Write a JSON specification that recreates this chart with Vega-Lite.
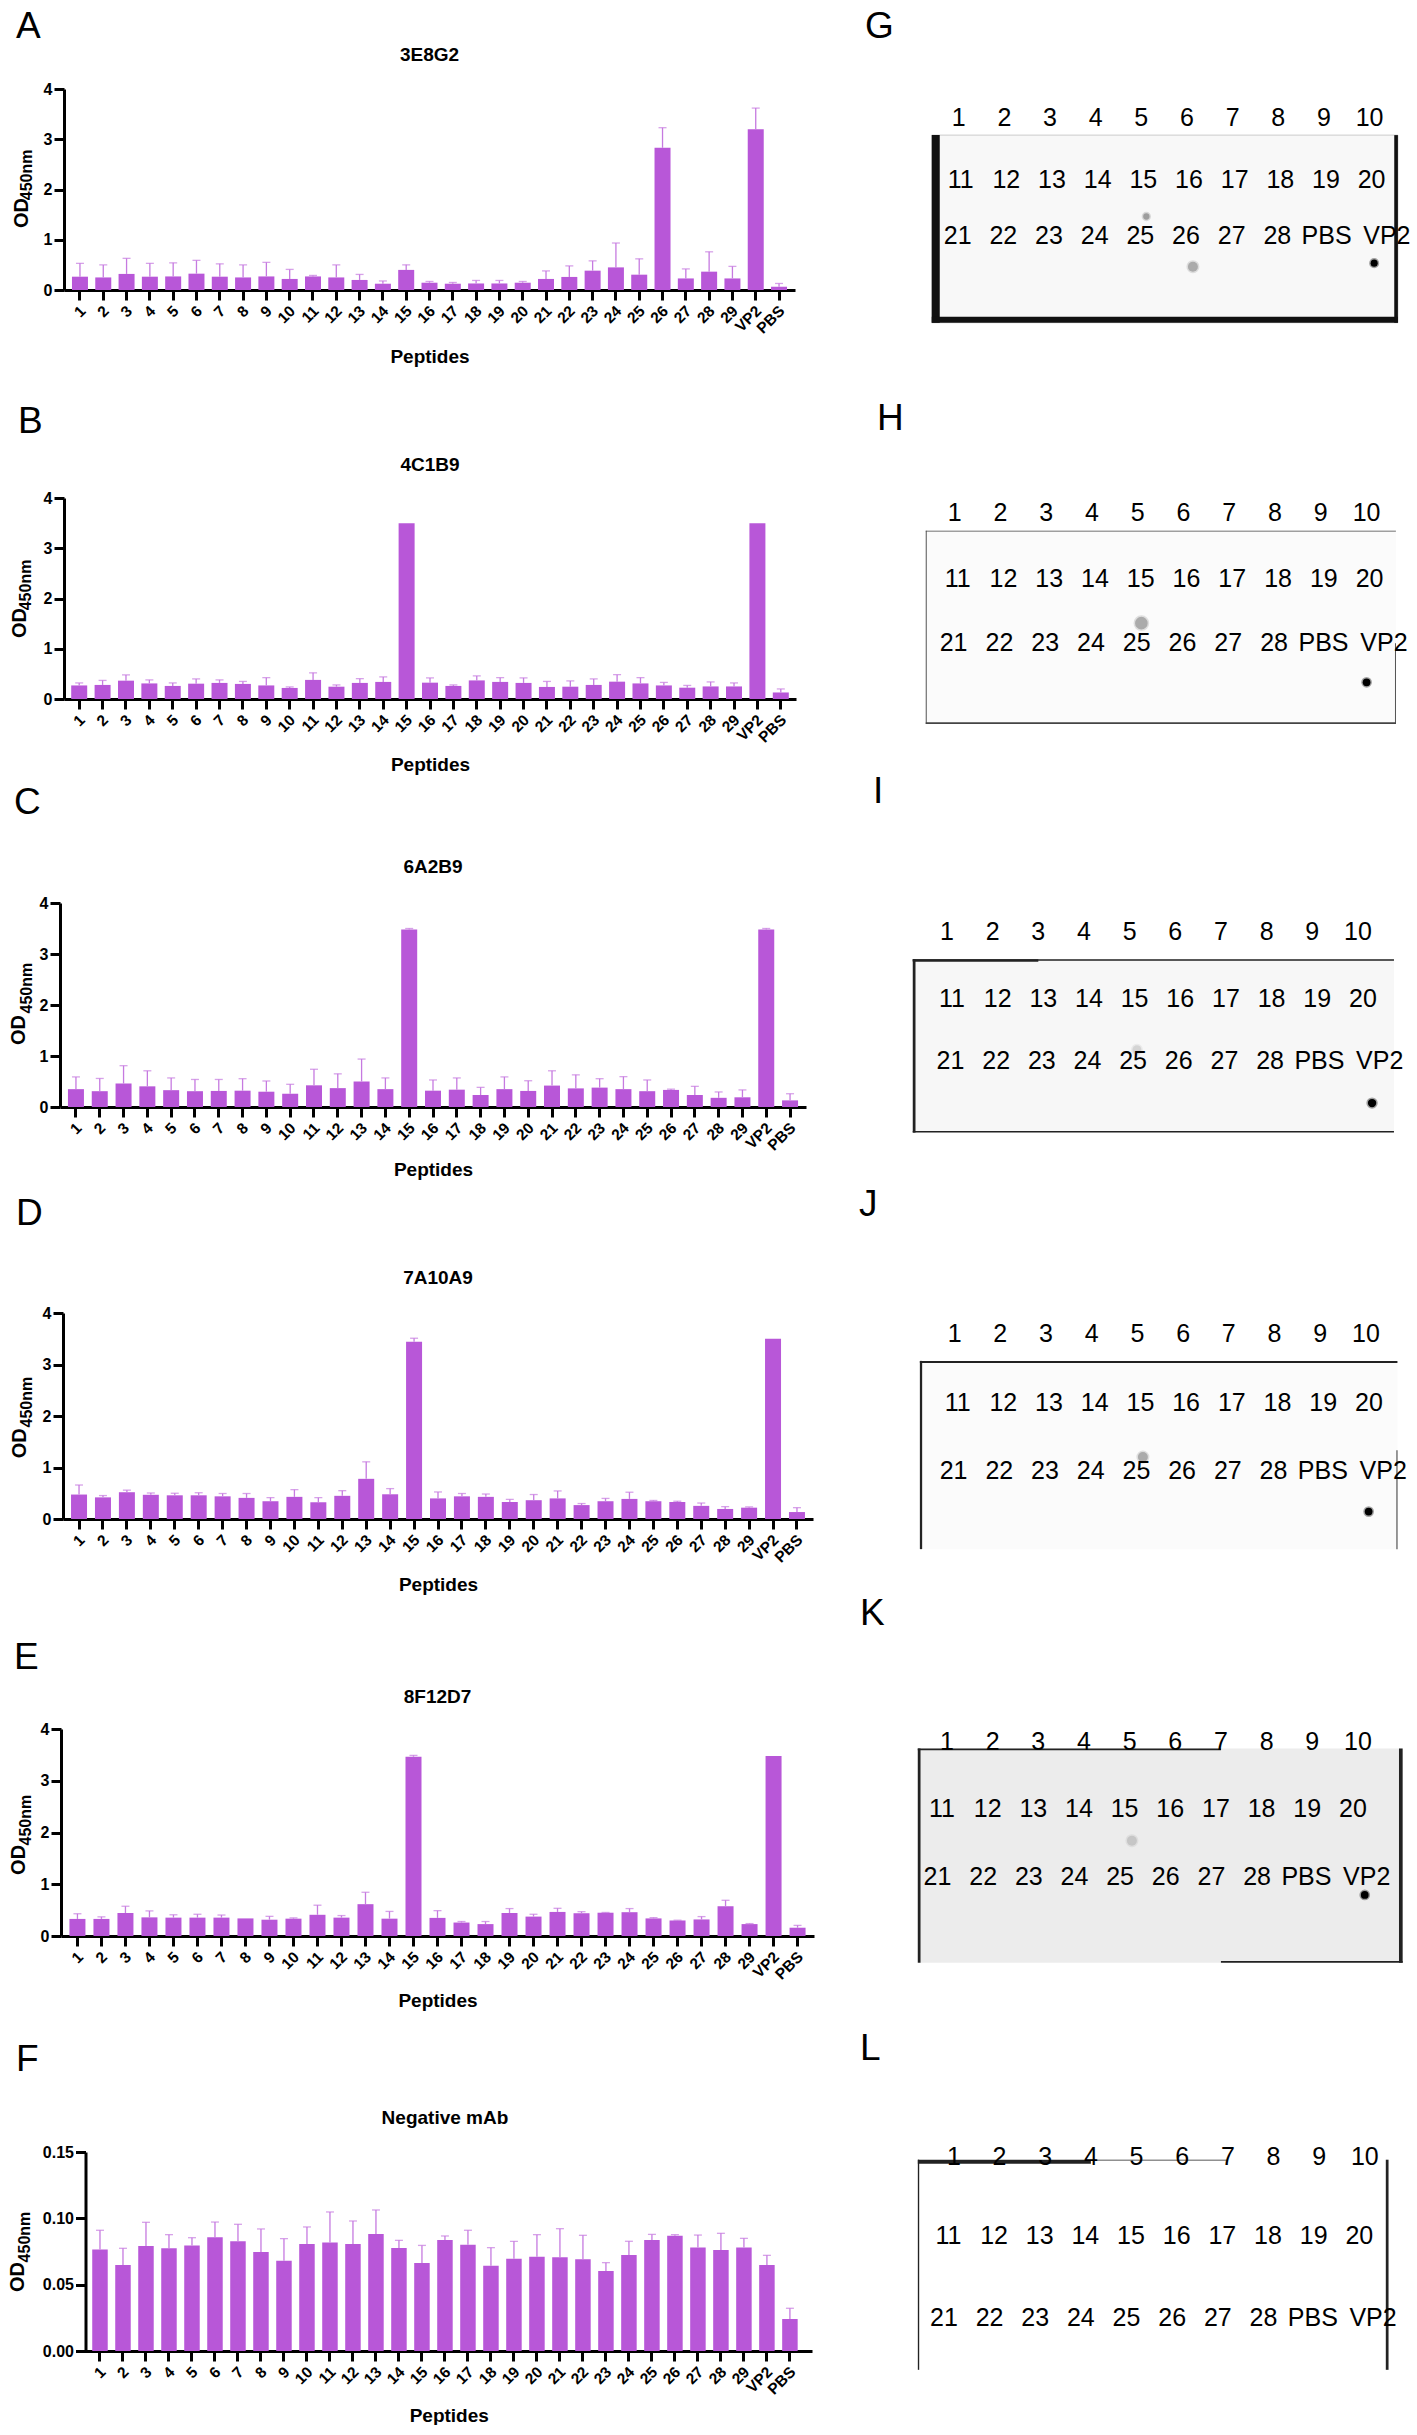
{
"$schema":"https://vega.github.io/schema/vega-lite/v6.json",
"padding":0,
"background":"white",
"config":{
 "view":{"stroke":null},
 "font":"Liberation Sans",
 "axis":{"grid":false,"domainColor":"black","domainWidth":3,"tickColor":"black","tickWidth":3,"tickSize":10,"labelColor":"black","labelFont":"Liberation Sans","labelFontWeight":"bold","labelOverlap":false,"labelFlush":false,"labelBound":false,"titleColor":"black","titleFont":"Liberation Sans","titleFontWeight":"bold"},
 "axisX":{"labelAngle":-45,"labelAlign":"right","labelBaseline":"middle","labelFontSize":15.5,"labelPadding":8,"labelOffset":3,"titleFontSize":19,"titleBaseline":"middle"},
 "axisY":{"labelFontSize":16,"labelPadding":2,"title":null},
 "title":{"anchor":"start","frame":"group","fontSize":37,"fontWeight":"normal","font":"Liberation Sans","color":"black","baseline":"alphabetic"},
 "text":{"font":"Liberation Sans","color":"black"},
 "bar":{"color":"#b857d8"},
 "rule":{"color":"#c67ae0","strokeWidth":1.3},
 "tick":{"color":"#c67ae0","thickness":1.3}
},
"datasets":{
"a":[{"p":"1","od":0.265,"hi":0.53},{"p":"2","od":0.25,"hi":0.5},{"p":"3","od":0.32,"hi":0.63},{"p":"4","od":0.265,"hi":0.53},{"p":"5","od":0.27,"hi":0.54},{"p":"6","od":0.325,"hi":0.59},{"p":"7","od":0.265,"hi":0.52},{"p":"8","od":0.25,"hi":0.5},{"p":"9","od":0.27,"hi":0.55},{"p":"10","od":0.22,"hi":0.41},{"p":"11","od":0.27,"hi":0.29},{"p":"12","od":0.25,"hi":0.5},{"p":"13","od":0.2,"hi":0.31},{"p":"14","od":0.125,"hi":0.18},{"p":"15","od":0.4,"hi":0.5},{"p":"16","od":0.145,"hi":0.17},{"p":"17","od":0.125,"hi":0.15},{"p":"18","od":0.13,"hi":0.19},{"p":"19","od":0.13,"hi":0.19},{"p":"20","od":0.145,"hi":0.17},{"p":"21","od":0.22,"hi":0.38},{"p":"22","od":0.26,"hi":0.48},{"p":"23","od":0.385,"hi":0.58},{"p":"24","od":0.45,"hi":0.935},{"p":"25","od":0.305,"hi":0.62},{"p":"26","od":2.83,"hi":3.23},{"p":"27","od":0.23,"hi":0.42},{"p":"28","od":0.365,"hi":0.76},{"p":"29","od":0.23,"hi":0.47},{"p":"VP2","od":3.2,"hi":3.62},{"p":"PBS","od":0.065,"hi":0.13}],
"b":[{"p":"1","od":0.27,"hi":0.32},{"p":"2","od":0.28,"hi":0.37},{"p":"3","od":0.365,"hi":0.48},{"p":"4","od":0.31,"hi":0.38},{"p":"5","od":0.26,"hi":0.32},{"p":"6","od":0.305,"hi":0.4},{"p":"7","od":0.32,"hi":0.38},{"p":"8","od":0.3,"hi":0.35},{"p":"9","od":0.27,"hi":0.425},{"p":"10","od":0.22,"hi":0.24},{"p":"11","od":0.38,"hi":0.52},{"p":"12","od":0.245,"hi":0.28},{"p":"13","od":0.32,"hi":0.405},{"p":"14","od":0.34,"hi":0.44},{"p":"15","od":3.5,"hi":3.5},{"p":"16","od":0.325,"hi":0.42},{"p":"17","od":0.26,"hi":0.28},{"p":"18","od":0.37,"hi":0.46},{"p":"19","od":0.34,"hi":0.425},{"p":"20","od":0.32,"hi":0.42},{"p":"21","od":0.24,"hi":0.35},{"p":"22","od":0.245,"hi":0.36},{"p":"23","od":0.28,"hi":0.4},{"p":"24","od":0.345,"hi":0.485},{"p":"25","od":0.31,"hi":0.425},{"p":"26","od":0.27,"hi":0.33},{"p":"27","od":0.225,"hi":0.27},{"p":"28","od":0.25,"hi":0.34},{"p":"29","od":0.25,"hi":0.32},{"p":"VP2","od":3.5,"hi":3.5},{"p":"PBS","od":0.13,"hi":0.2}],
"c":[{"p":"1","od":0.35,"hi":0.59},{"p":"2","od":0.31,"hi":0.56},{"p":"3","od":0.46,"hi":0.81},{"p":"4","od":0.405,"hi":0.71},{"p":"5","od":0.33,"hi":0.57},{"p":"6","od":0.31,"hi":0.54},{"p":"7","od":0.315,"hi":0.54},{"p":"8","od":0.32,"hi":0.555},{"p":"9","od":0.3,"hi":0.51},{"p":"10","od":0.26,"hi":0.445},{"p":"11","od":0.425,"hi":0.74},{"p":"12","od":0.37,"hi":0.65},{"p":"13","od":0.5,"hi":0.94},{"p":"14","od":0.35,"hi":0.57},{"p":"15","od":3.48,"hi":3.5},{"p":"16","od":0.32,"hi":0.53},{"p":"17","od":0.34,"hi":0.57},{"p":"18","od":0.235,"hi":0.385},{"p":"19","od":0.35,"hi":0.59},{"p":"20","od":0.315,"hi":0.515},{"p":"21","od":0.42,"hi":0.71},{"p":"22","od":0.365,"hi":0.63},{"p":"23","od":0.38,"hi":0.555},{"p":"24","od":0.35,"hi":0.595},{"p":"25","od":0.31,"hi":0.53},{"p":"26","od":0.335,"hi":0.35},{"p":"27","od":0.235,"hi":0.405},{"p":"28","od":0.18,"hi":0.295},{"p":"29","od":0.19,"hi":0.335},{"p":"VP2","od":3.48,"hi":3.5},{"p":"PBS","od":0.13,"hi":0.26}],
"d":[{"p":"1","od":0.475,"hi":0.66},{"p":"2","od":0.42,"hi":0.455},{"p":"3","od":0.52,"hi":0.56},{"p":"4","od":0.47,"hi":0.505},{"p":"5","od":0.46,"hi":0.5},{"p":"6","od":0.46,"hi":0.51},{"p":"7","od":0.44,"hi":0.495},{"p":"8","od":0.41,"hi":0.495},{"p":"9","od":0.345,"hi":0.415},{"p":"10","od":0.43,"hi":0.57},{"p":"11","od":0.325,"hi":0.415},{"p":"12","od":0.45,"hi":0.55},{"p":"13","od":0.78,"hi":1.11},{"p":"14","od":0.48,"hi":0.59},{"p":"15","od":3.44,"hi":3.51},{"p":"16","od":0.4,"hi":0.525},{"p":"17","od":0.44,"hi":0.495},{"p":"18","od":0.43,"hi":0.485},{"p":"19","od":0.33,"hi":0.38},{"p":"20","od":0.365,"hi":0.475},{"p":"21","od":0.4,"hi":0.545},{"p":"22","od":0.27,"hi":0.3},{"p":"23","od":0.345,"hi":0.4},{"p":"24","od":0.39,"hi":0.52},{"p":"25","od":0.345,"hi":0.36},{"p":"26","od":0.33,"hi":0.345},{"p":"27","od":0.255,"hi":0.31},{"p":"28","od":0.195,"hi":0.24},{"p":"29","od":0.22,"hi":0.235},{"p":"VP2","od":3.5,"hi":3.5},{"p":"PBS","od":0.135,"hi":0.22}],
"e":[{"p":"1","od":0.33,"hi":0.43},{"p":"2","od":0.33,"hi":0.37},{"p":"3","od":0.445,"hi":0.575},{"p":"4","od":0.36,"hi":0.485},{"p":"5","od":0.355,"hi":0.41},{"p":"6","od":0.355,"hi":0.42},{"p":"7","od":0.355,"hi":0.405},{"p":"8","od":0.34,"hi":0.34},{"p":"9","od":0.315,"hi":0.38},{"p":"10","od":0.335,"hi":0.35},{"p":"11","od":0.41,"hi":0.595},{"p":"12","od":0.355,"hi":0.395},{"p":"13","od":0.615,"hi":0.845},{"p":"14","od":0.335,"hi":0.475},{"p":"15","od":3.465,"hi":3.49},{"p":"16","od":0.35,"hi":0.49},{"p":"17","od":0.26,"hi":0.28},{"p":"18","od":0.23,"hi":0.28},{"p":"19","od":0.445,"hi":0.53},{"p":"20","od":0.375,"hi":0.42},{"p":"21","od":0.465,"hi":0.535},{"p":"22","od":0.44,"hi":0.47},{"p":"23","od":0.45,"hi":0.455},{"p":"24","od":0.46,"hi":0.53},{"p":"25","od":0.34,"hi":0.355},{"p":"26","od":0.3,"hi":0.305},{"p":"27","od":0.32,"hi":0.375},{"p":"28","od":0.575,"hi":0.69},{"p":"29","od":0.23,"hi":0.24},{"p":"VP2","od":3.48,"hi":3.48},{"p":"PBS","od":0.16,"hi":0.205}],
"f":[{"p":"1","od":0.0766,"hi":0.091},{"p":"2","od":0.0648,"hi":0.0774},{"p":"3","od":0.0791,"hi":0.097},{"p":"4","od":0.0774,"hi":0.0877},{"p":"5","od":0.0796,"hi":0.0854},{"p":"6","od":0.0857,"hi":0.0972},{"p":"7","od":0.0827,"hi":0.0955},{"p":"8","od":0.0746,"hi":0.092},{"p":"9","od":0.068,"hi":0.0847},{"p":"10","od":0.0807,"hi":0.0935},{"p":"11","od":0.0817,"hi":0.1048},{"p":"12","od":0.0807,"hi":0.098},{"p":"13","od":0.0882,"hi":0.1063},{"p":"14","od":0.0776,"hi":0.0834},{"p":"15","od":0.0663,"hi":0.0796},{"p":"16","od":0.0837,"hi":0.0867},{"p":"17","od":0.0801,"hi":0.091},{"p":"18","od":0.0643,"hi":0.0779},{"p":"19","od":0.0696,"hi":0.0827},{"p":"20","od":0.0711,"hi":0.0877},{"p":"21","od":0.0706,"hi":0.0922},{"p":"22","od":0.0691,"hi":0.0872},{"p":"23","od":0.0603,"hi":0.0666},{"p":"24","od":0.0724,"hi":0.0827},{"p":"25","od":0.0837,"hi":0.0879},{"p":"26","od":0.0869,"hi":0.0877},{"p":"27","od":0.0781,"hi":0.0874},{"p":"28","od":0.0761,"hi":0.0887},{"p":"29","od":0.0781,"hi":0.0849},{"p":"VP2","od":0.0648,"hi":0.0721},{"p":"PBS","od":0.0241,"hi":0.0322}],
"labels":[{"t":"1","lane":1,"row":1},{"t":"2","lane":2,"row":1},{"t":"3","lane":3,"row":1},{"t":"4","lane":4,"row":1},{"t":"5","lane":5,"row":1},{"t":"6","lane":6,"row":1},{"t":"7","lane":7,"row":1},{"t":"8","lane":8,"row":1},{"t":"9","lane":9,"row":1},{"t":"10","lane":10,"row":1},{"t":"11","lane":1,"row":2},{"t":"12","lane":2,"row":2},{"t":"13","lane":3,"row":2},{"t":"14","lane":4,"row":2},{"t":"15","lane":5,"row":2},{"t":"16","lane":6,"row":2},{"t":"17","lane":7,"row":2},{"t":"18","lane":8,"row":2},{"t":"19","lane":9,"row":2},{"t":"20","lane":10,"row":2},{"t":"21","lane":1,"row":3},{"t":"22","lane":2,"row":3},{"t":"23","lane":3,"row":3},{"t":"24","lane":4,"row":3},{"t":"25","lane":5,"row":3},{"t":"26","lane":6,"row":3},{"t":"27","lane":7,"row":3},{"t":"28","lane":8,"row":3},{"t":"PBS","lane":9.08,"row":3},{"t":"VP2","lane":10.4,"row":3}]
},
"concat":[
{"width":830,"height":290,"title":{"text":"A","dx":16,"offset":-46},
 "encoding":{"x":{"field":"p","type":"nominal","scale":{"domain":["1","2","3","4","5","6","7","8","9","10","11","12","13","14","15","16","17","18","19","20","21","22","23","24","25","26","27","28","29","VP2","PBS"],"range":[64,795],"paddingInner":0,"paddingOuter":0.185},"axis":{"title":"Peptides","titleY":66}},
  "y":{"field":"od","type":"quantitative","scale":{"domain":[0,4],"range":[290,89],"nice":false},"axis":{"values":[0,1,2,3,4],"offset":-64}}},
 "layer":[
  {"data":{"name":"a"},"mark":{"type":"bar","size":16}},
  {"data":{"name":"a"},"mark":"rule","encoding":{"y2":{"field":"hi"}}},
  {"data":{"name":"a"},"mark":{"type":"tick","size":8},"encoding":{"y":{"field":"hi","type":"quantitative"}}},
  {"data":{"values":[{"p":"16","od":4.68,"t":"3E8G2"}]},"mark":{"type":"text","fontSize":19,"fontWeight":"bold"},"encoding":{"text":{"field":"t"}}},
  {"data":{"values":[{"p":"1","od":1.53,"t":"OD"}]},"mark":{"type":"text","fontSize":20,"fontWeight":"bold","angle":270,"dy":-58},"encoding":{"text":{"field":"t"}}},
  {"data":{"values":[{"p":"1","od":2.29,"t":"450nm"}]},"mark":{"type":"text","fontSize":16,"fontWeight":"bold","angle":270,"dy":-53},"encoding":{"text":{"field":"t"}}}
 ]},
{"width":567,"height":290,"title":{"text":"G","dx":15,"offset":-46},
 "layer":[
  {"data":{"values":[{"x1":0.41,"x2":10.62,"y1":1.29,"y2":4.47}]},"mark":{"type":"rect","fill":"#f8f8f8","stroke":"#cccccc","strokeWidth":1},
   "encoding":{"x":{"field":"x1","type":"quantitative","scale":{"domain":[1,10],"range":[108.7,519.6],"nice":false,"zero":false},"axis":null},"x2":{"field":"x2"},"y":{"field":"y1","type":"quantitative","scale":{"domain":[1,3],"range":[118,236],"nice":false,"zero":false},"axis":null},"y2":{"field":"y2"}}},
  {"data":{"values":[{"x1":0.41,"x2":0.585,"y1":1.29,"y2":4.47},{"x1":0.41,"x2":10.62,"y1":4.37,"y2":4.47},{"x1":10.54,"x2":10.62,"y1":1.29,"y2":4.47}]},"mark":{"type":"rect","fill":"#111111"},
   "encoding":{"x":{"field":"x1","type":"quantitative","axis":null},"x2":{"field":"x2"},"y":{"field":"y1","type":"quantitative","axis":null},"y2":{"field":"y2"}}},
  {"data":{"values":[{"lane":5.11,"row":2.67,"signal":0.35,"area":40},{"lane":6.13,"row":3.52,"signal":0.3,"area":100},{"lane":10.1,"row":3.46,"signal":1,"area":50}]},"mark":{"type":"circle","opacity":1,"strokeWidth":3,"strokeOpacity":0.35},
   "encoding":{"x":{"field":"lane","type":"quantitative","axis":null},"y":{"field":"row","type":"quantitative","axis":null},"size":{"field":"area","type":"quantitative","scale":{"domain":[0,500],"range":[0,500]},"legend":null},"color":{"field":"signal","type":"quantitative","scale":{"domain":[0,1],"range":["#ffffff","#000000"]},"legend":null},"stroke":{"field":"signal","type":"quantitative","scale":{"domain":[0,1],"range":["#ffffff","#000000"]},"legend":null}}},
  {"data":{"name":"labels"},"transform":[{"filter":"datum.row==1"}],"mark":{"type":"text","fontSize":25},"encoding":{"x":{"field":"lane","type":"quantitative"},"y":{"field":"row","type":"quantitative"},"text":{"field":"t"}}},
  {"data":{"name":"labels"},"transform":[{"filter":"datum.row==2"}],"mark":{"type":"text","fontSize":25,"dx":2,"dy":3},"encoding":{"x":{"field":"lane","type":"quantitative"},"y":{"field":"row","type":"quantitative"},"text":{"field":"t"}}},
  {"data":{"name":"labels"},"transform":[{"filter":"datum.row==3"}],"mark":{"type":"text","fontSize":25,"dx":-1},"encoding":{"x":{"field":"lane","type":"quantitative"},"y":{"field":"row","type":"quantitative"},"text":{"field":"t"}}}
 ]},
{"width":830,"height":389,"title":{"text":"B","dx":18,"offset":-131},
 "encoding":{"x":{"field":"p","type":"nominal","scale":{"domain":["1","2","3","4","5","6","7","8","9","10","11","12","13","14","15","16","17","18","19","20","21","22","23","24","25","26","27","28","29","VP2","PBS"],"range":[64,796],"paddingInner":0,"paddingOuter":0.15},"axis":{"title":"Peptides","titleY":65}},
  "y":{"field":"od","type":"quantitative","scale":{"domain":[0,4],"range":[389,188],"nice":false},"axis":{"values":[0,1,2,3,4],"offset":-64}}},
 "layer":[
  {"data":{"name":"b"},"mark":{"type":"bar","size":16}},
  {"data":{"name":"b"},"transform":[{"filter":"datum.hi>datum.od"}],"mark":"rule","encoding":{"y2":{"field":"hi"}}},
  {"data":{"name":"b"},"transform":[{"filter":"datum.hi>datum.od"}],"mark":{"type":"tick","size":8},"encoding":{"y":{"field":"hi","type":"quantitative"}}},
  {"data":{"values":[{"p":"16","od":4.66,"t":"4C1B9"}]},"mark":{"type":"text","fontSize":19,"fontWeight":"bold"},"encoding":{"text":{"field":"t"}}},
  {"data":{"values":[{"p":"1","od":1.51,"t":"OD"}]},"mark":{"type":"text","fontSize":20,"fontWeight":"bold","angle":270,"dy":-59},"encoding":{"text":{"field":"t"}}},
  {"data":{"values":[{"p":"1","od":2.27,"t":"450nm"}]},"mark":{"type":"text","fontSize":16,"fontWeight":"bold","angle":270,"dy":-53},"encoding":{"text":{"field":"t"}}}
 ]},
{"width":567,"height":389,"title":{"text":"H","dx":27,"offset":-128},
 "layer":[
  {"data":{"values":[{"x1":0.37,"x2":10.64,"y1":1.27,"y2":4.24}]},"mark":{"type":"rect","fill":"#fbfbfb"},
   "encoding":{"x":{"field":"x1","type":"quantitative","scale":{"domain":[1,10],"range":[104.6,516.6],"nice":false,"zero":false},"axis":null},"x2":{"field":"x2"},"y":{"field":"y1","type":"quantitative","scale":{"domain":[1,3],"range":[203.3,333.3],"nice":false,"zero":false},"axis":null},"y2":{"field":"y2"}}},
  {"data":{"values":[{"x1":0.37,"x2":0.39,"y1":1.27,"y2":4.24},{"x1":0.37,"x2":10.64,"y1":4.215,"y2":4.24},{"x1":10.62,"x2":10.64,"y1":3,"y2":4.24},{"x1":0.37,"x2":10.64,"y1":1.27,"y2":1.28}]},"mark":{"type":"rect","fill":"#444444"},
   "encoding":{"x":{"field":"x1","type":"quantitative","axis":null},"x2":{"field":"x2"},"y":{"field":"y1","type":"quantitative","axis":null},"y2":{"field":"y2"}}},
  {"data":{"values":[{"lane":5.08,"row":2.69,"signal":0.3,"area":160},{"lane":10,"row":3.6,"signal":1,"area":60}]},"mark":{"type":"circle","opacity":1,"strokeWidth":3,"strokeOpacity":0.35},
   "encoding":{"x":{"field":"lane","type":"quantitative","axis":null},"y":{"field":"row","type":"quantitative","axis":null},"size":{"field":"area","type":"quantitative","scale":{"domain":[0,500],"range":[0,500]},"legend":null},"color":{"field":"signal","type":"quantitative","scale":{"domain":[0,1],"range":["#ffffff","#000000"]},"legend":null},"stroke":{"field":"signal","type":"quantitative","scale":{"domain":[0,1],"range":["#ffffff","#000000"]},"legend":null}}},
  {"data":{"name":"labels"},"transform":[{"filter":"datum.row==1"}],"mark":{"type":"text","fontSize":25},"encoding":{"x":{"field":"lane","type":"quantitative"},"y":{"field":"row","type":"quantitative"},"text":{"field":"t"}}},
  {"data":{"name":"labels"},"transform":[{"filter":"datum.row==2"}],"mark":{"type":"text","fontSize":25,"dx":3,"dy":1},"encoding":{"x":{"field":"lane","type":"quantitative"},"y":{"field":"row","type":"quantitative"},"text":{"field":"t"}}},
  {"data":{"name":"labels"},"transform":[{"filter":"datum.row==3"}],"mark":{"type":"text","fontSize":25,"dx":-1},"encoding":{"x":{"field":"lane","type":"quantitative"},"y":{"field":"row","type":"quantitative"},"text":{"field":"t"}}}
 ]},
{"width":830,"height":388,"title":{"text":"C","dx":14,"offset":-103},
 "encoding":{"x":{"field":"p","type":"nominal","scale":{"domain":["1","2","3","4","5","6","7","8","9","10","11","12","13","14","15","16","17","18","19","20","21","22","23","24","25","26","27","28","29","VP2","PBS"],"range":[60,806],"paddingInner":0,"paddingOuter":0.17},"axis":{"title":"Peptides","titleY":62}},
  "y":{"field":"od","type":"quantitative","scale":{"domain":[0,4],"range":[388,184],"nice":false},"axis":{"values":[0,1,2,3,4],"offset":-60}}},
 "layer":[
  {"data":{"name":"c"},"mark":{"type":"bar","size":16}},
  {"data":{"name":"c"},"mark":"rule","encoding":{"y2":{"field":"hi"}}},
  {"data":{"name":"c"},"mark":{"type":"tick","size":8},"encoding":{"y":{"field":"hi","type":"quantitative"}}},
  {"data":{"values":[{"p":"16","od":4.7,"t":"6A2B9"}]},"mark":{"type":"text","fontSize":19,"fontWeight":"bold"},"encoding":{"text":{"field":"t"}}},
  {"data":{"values":[{"p":"1","od":1.51,"t":"OD"}]},"mark":{"type":"text","fontSize":20,"fontWeight":"bold","angle":270,"dy":-57},"encoding":{"text":{"field":"t"}}},
  {"data":{"values":[{"p":"1","od":2.33,"t":"450nm"}]},"mark":{"type":"text","fontSize":16,"fontWeight":"bold","angle":270,"dy":-49},"encoding":{"text":{"field":"t"}}}
 ]},
{"width":567,"height":388,"title":{"text":"I","dx":23,"offset":-92},
 "layer":[
  {"data":{"values":[{"x1":0.25,"x2":10.79,"y1":1.42,"y2":4.12}]},"mark":{"type":"rect","fill":"#f7f7f7"},
   "encoding":{"x":{"field":"x1","type":"quantitative","scale":{"domain":[1,10],"range":[97,507.9],"nice":false,"zero":false},"axis":null},"x2":{"field":"x2"},"y":{"field":"y1","type":"quantitative","scale":{"domain":[1,3],"range":[213.3,341.7],"nice":false,"zero":false},"axis":null},"y2":{"field":"y2"}}},
  {"data":{"values":[{"x1":0.25,"x2":0.31,"y1":1.42,"y2":4.12},{"x1":0.25,"x2":10.79,"y1":1.42,"y2":1.445},{"x1":0.25,"x2":3,"y1":1.42,"y2":1.46},{"x1":0.25,"x2":10.79,"y1":4.095,"y2":4.12}]},"mark":{"type":"rect","fill":"#222222"},
   "encoding":{"x":{"field":"x1","type":"quantitative","axis":null},"x2":{"field":"x2"},"y":{"field":"y1","type":"quantitative","axis":null},"y2":{"field":"y2"}}},
  {"data":{"values":[{"lane":5.16,"row":2.83,"signal":0.15,"area":80},{"lane":10.31,"row":3.66,"signal":1,"area":70}]},"mark":{"type":"circle","opacity":1,"strokeWidth":3,"strokeOpacity":0.35},
   "encoding":{"x":{"field":"lane","type":"quantitative","axis":null},"y":{"field":"row","type":"quantitative","axis":null},"size":{"field":"area","type":"quantitative","scale":{"domain":[0,500],"range":[0,500]},"legend":null},"color":{"field":"signal","type":"quantitative","scale":{"domain":[0,1],"range":["#ffffff","#000000"]},"legend":null},"stroke":{"field":"signal","type":"quantitative","scale":{"domain":[0,1],"range":["#ffffff","#000000"]},"legend":null}}},
  {"data":{"name":"labels"},"transform":[{"filter":"datum.row==1"}],"mark":{"type":"text","fontSize":25},"encoding":{"x":{"field":"lane","type":"quantitative"},"y":{"field":"row","type":"quantitative"},"text":{"field":"t"}}},
  {"data":{"name":"labels"},"transform":[{"filter":"datum.row==2"}],"mark":{"type":"text","fontSize":25,"dx":5,"dy":2.5},"encoding":{"x":{"field":"lane","type":"quantitative"},"y":{"field":"row","type":"quantitative"},"text":{"field":"t"}}},
  {"data":{"name":"labels"},"transform":[{"filter":"datum.row==3"}],"mark":{"type":"text","fontSize":25,"dx":3.5},"encoding":{"x":{"field":"lane","type":"quantitative"},"y":{"field":"row","type":"quantitative"},"text":{"field":"t"}}}
 ]},
{"width":830,"height":392,"title":{"text":"D","dx":16,"offset":-106},
 "encoding":{"x":{"field":"p","type":"nominal","scale":{"domain":["1","2","3","4","5","6","7","8","9","10","11","12","13","14","15","16","17","18","19","20","21","22","23","24","25","26","27","28","29","VP2","PBS"],"range":[63,813],"paddingInner":0,"paddingOuter":0.17},"axis":{"title":"Peptides","titleY":65}},
  "y":{"field":"od","type":"quantitative","scale":{"domain":[0,4],"range":[392,186],"nice":false},"axis":{"values":[0,1,2,3,4],"offset":-63}}},
 "layer":[
  {"data":{"name":"d"},"mark":{"type":"bar","size":16}},
  {"data":{"name":"d"},"transform":[{"filter":"datum.hi>datum.od"}],"mark":"rule","encoding":{"y2":{"field":"hi"}}},
  {"data":{"name":"d"},"transform":[{"filter":"datum.hi>datum.od"}],"mark":{"type":"tick","size":8},"encoding":{"y":{"field":"hi","type":"quantitative"}}},
  {"data":{"values":[{"p":"16","od":4.68,"t":"7A10A9"}]},"mark":{"type":"text","fontSize":19,"fontWeight":"bold"},"encoding":{"text":{"field":"t"}}},
  {"data":{"values":[{"p":"1","od":1.47,"t":"OD"}]},"mark":{"type":"text","fontSize":20,"fontWeight":"bold","angle":270,"dy":-59},"encoding":{"text":{"field":"t"}}},
  {"data":{"values":[{"p":"1","od":2.27,"t":"450nm"}]},"mark":{"type":"text","fontSize":16,"fontWeight":"bold","angle":270,"dy":-52},"encoding":{"text":{"field":"t"}}}
 ]},
{"width":567,"height":392,"title":{"text":"J","dx":9,"offset":-97},
 "layer":[
  {"data":{"values":[{"x1":0.24,"x2":10.69,"y1":1.39,"y2":4.15}]},"mark":{"type":"rect","fill":"#fbfbfb"},
   "encoding":{"x":{"field":"x1","type":"quantitative","scale":{"domain":[1,10],"range":[104.6,515.9],"nice":false,"zero":false},"axis":null},"x2":{"field":"x2"},"y":{"field":"y1","type":"quantitative","scale":{"domain":[1,3],"range":[207.3,343.7],"nice":false,"zero":false},"axis":null},"y2":{"field":"y2"}}},
  {"data":{"values":[{"x1":0.24,"x2":10.69,"y1":1.39,"y2":1.42},{"x1":0.24,"x2":0.29,"y1":1.39,"y2":4.15},{"x1":10.67,"x2":10.69,"y1":2.7,"y2":4.15}]},"mark":{"type":"rect","fill":"#222222"},
   "encoding":{"x":{"field":"x1","type":"quantitative","axis":null},"x2":{"field":"x2"},"y":{"field":"y1","type":"quantitative","axis":null},"y2":{"field":"y2"}}},
  {"data":{"values":[{"lane":5.12,"row":2.8,"signal":0.3,"area":100},{"lane":10.06,"row":3.6,"signal":1,"area":60}]},"mark":{"type":"circle","opacity":1,"strokeWidth":3,"strokeOpacity":0.35},
   "encoding":{"x":{"field":"lane","type":"quantitative","axis":null},"y":{"field":"row","type":"quantitative","axis":null},"size":{"field":"area","type":"quantitative","scale":{"domain":[0,500],"range":[0,500]},"legend":null},"color":{"field":"signal","type":"quantitative","scale":{"domain":[0,1],"range":["#ffffff","#000000"]},"legend":null},"stroke":{"field":"signal","type":"quantitative","scale":{"domain":[0,1],"range":["#ffffff","#000000"]},"legend":null}}},
  {"data":{"name":"labels"},"transform":[{"filter":"datum.row==1"}],"mark":{"type":"text","fontSize":25},"encoding":{"x":{"field":"lane","type":"quantitative"},"y":{"field":"row","type":"quantitative"},"text":{"field":"t"}}},
  {"data":{"name":"labels"},"transform":[{"filter":"datum.row==2"}],"mark":{"type":"text","fontSize":25,"dx":3},"encoding":{"x":{"field":"lane","type":"quantitative"},"y":{"field":"row","type":"quantitative"},"text":{"field":"t"}}},
  {"data":{"name":"labels"},"transform":[{"filter":"datum.row==3"}],"mark":{"type":"text","fontSize":25,"dx":-1},"encoding":{"x":{"field":"lane","type":"quantitative"},"y":{"field":"row","type":"quantitative"},"text":{"field":"t"}}}
 ]},
{"width":830,"height":397,"title":{"text":"E","dx":14,"offset":-138},
 "encoding":{"x":{"field":"p","type":"nominal","scale":{"domain":["1","2","3","4","5","6","7","8","9","10","11","12","13","14","15","16","17","18","19","20","21","22","23","24","25","26","27","28","29","VP2","PBS"],"range":[61,814],"paddingInner":0,"paddingOuter":0.185},"axis":{"title":"Peptides","titleY":64}},
  "y":{"field":"od","type":"quantitative","scale":{"domain":[0,4],"range":[397,190],"nice":false},"axis":{"values":[0,1,2,3,4],"offset":-61}}},
 "layer":[
  {"data":{"name":"e"},"mark":{"type":"bar","size":16}},
  {"data":{"name":"e"},"transform":[{"filter":"datum.hi>datum.od"}],"mark":"rule","encoding":{"y2":{"field":"hi"}}},
  {"data":{"name":"e"},"transform":[{"filter":"datum.hi>datum.od"}],"mark":{"type":"tick","size":8},"encoding":{"y":{"field":"hi","type":"quantitative"}}},
  {"data":{"values":[{"p":"16","od":4.62,"t":"8F12D7"}]},"mark":{"type":"text","fontSize":19,"fontWeight":"bold"},"encoding":{"text":{"field":"t"}}},
  {"data":{"values":[{"p":"1","od":1.47,"t":"OD"}]},"mark":{"type":"text","fontSize":20,"fontWeight":"bold","angle":270,"dy":-58},"encoding":{"text":{"field":"t"}}},
  {"data":{"values":[{"p":"1","od":2.24,"t":"450nm"}]},"mark":{"type":"text","fontSize":16,"fontWeight":"bold","angle":270,"dy":-51},"encoding":{"text":{"field":"t"}}}
 ]},
{"width":567,"height":397,"title":{"text":"K","dx":10,"offset":-94},
 "layer":[
  {"data":{"values":[{"x1":0.36,"x2":10.98,"y1":1.1,"y2":4.26}]},"mark":{"type":"rect","fill":"#ececec"},
   "encoding":{"x":{"field":"x1","type":"quantitative","scale":{"domain":[1,10],"range":[97,507.9],"nice":false,"zero":false},"axis":null},"x2":{"field":"x2"},"y":{"field":"y1","type":"quantitative","scale":{"domain":[1,3],"range":[202.7,338.3],"nice":false,"zero":false},"axis":null},"y2":{"field":"y2"}}},
  {"data":{"values":[{"x1":0.36,"x2":0.42,"y1":1.1,"y2":4.26},{"x1":0.36,"x2":7,"y1":1.1,"y2":1.125},{"x1":10.9,"x2":10.98,"y1":1.1,"y2":4.26},{"x1":7,"x2":10.98,"y1":4.235,"y2":4.26}]},"mark":{"type":"rect","fill":"#222222"},
   "encoding":{"x":{"field":"x1","type":"quantitative","axis":null},"x2":{"field":"x2"},"y":{"field":"y1","type":"quantitative","axis":null},"y2":{"field":"y2"}}},
  {"data":{"values":[{"lane":5.05,"row":2.46,"signal":0.2,"area":100},{"lane":10.15,"row":3.26,"signal":1,"area":60}]},"mark":{"type":"circle","opacity":1,"strokeWidth":3,"strokeOpacity":0.35},
   "encoding":{"x":{"field":"lane","type":"quantitative","axis":null},"y":{"field":"row","type":"quantitative","axis":null},"size":{"field":"area","type":"quantitative","scale":{"domain":[0,500],"range":[0,500]},"legend":null},"color":{"field":"signal","type":"quantitative","scale":{"domain":[0,1],"range":["#ffffff","#000000"]},"legend":null},"stroke":{"field":"signal","type":"quantitative","scale":{"domain":[0,1],"range":["#ffffff","#000000"]},"legend":null}}},
  {"data":{"name":"labels"},"transform":[{"filter":"datum.row==1"}],"mark":{"type":"text","fontSize":25},"encoding":{"x":{"field":"lane","type":"quantitative"},"y":{"field":"row","type":"quantitative"},"text":{"field":"t"}}},
  {"data":{"name":"labels"},"transform":[{"filter":"datum.row==2"}],"mark":{"type":"text","fontSize":25,"dx":-5,"dy":-1},"encoding":{"x":{"field":"lane","type":"quantitative"},"y":{"field":"row","type":"quantitative"},"text":{"field":"t"}}},
  {"data":{"name":"labels"},"transform":[{"filter":"datum.row==3"}],"mark":{"type":"text","fontSize":25,"dx":-9.5},"encoding":{"x":{"field":"lane","type":"quantitative"},"y":{"field":"row","type":"quantitative"},"text":{"field":"t"}}}
 ]},
{"width":830,"height":395,"title":{"text":"F","dx":16,"offset":-123},
 "encoding":{"x":{"field":"p","type":"nominal","scale":{"domain":["1","2","3","4","5","6","7","8","9","10","11","12","13","14","15","16","17","18","19","20","21","22","23","24","25","26","27","28","29","VP2","PBS"],"range":[85.5,812],"paddingInner":0,"paddingOuter":0.295,"align":0.22},"axis":{"title":"Peptides","titleY":64}},
  "y":{"field":"od","type":"quantitative","scale":{"domain":[0,0.15],"range":[395,196],"nice":false},"axis":{"values":[0,0.05,0.1,0.15],"format":".2f","offset":-85.5}}},
 "layer":[
  {"data":{"name":"f"},"mark":{"type":"bar","size":15.5}},
  {"data":{"name":"f"},"mark":"rule","encoding":{"y2":{"field":"hi"}}},
  {"data":{"name":"f"},"mark":{"type":"tick","size":8},"encoding":{"y":{"field":"hi","type":"quantitative"}}},
  {"data":{"values":[{"p":"16","od":0.176,"t":"Negative mAb"}]},"mark":{"type":"text","fontSize":19,"fontWeight":"bold"},"encoding":{"text":{"field":"t"}}},
  {"data":{"values":[{"p":"1","od":0.0558,"t":"OD"}]},"mark":{"type":"text","fontSize":20,"fontWeight":"bold","angle":270,"dy":-82},"encoding":{"text":{"field":"t"}}},
  {"data":{"values":[{"p":"1","od":0.0859,"t":"450nm"}]},"mark":{"type":"text","fontSize":16,"fontWeight":"bold","angle":270,"dy":-75},"encoding":{"text":{"field":"t"}}}
 ]},
{"width":567,"height":395,"title":{"text":"L","dx":10,"offset":-112},
 "layer":[
  {"data":{"values":[{"x1":0.21,"x2":10.52,"y1":1.03,"y2":3.65}]},"mark":{"type":"rect","fill":"#ffffff"},
   "encoding":{"x":{"field":"x1","type":"quantitative","scale":{"domain":[1,10],"range":[103.9,514.8],"nice":false,"zero":false},"axis":null},"x2":{"field":"x2"},"y":{"field":"y1","type":"quantitative","scale":{"domain":[1,3],"range":[201.3,361.7],"nice":false,"zero":false},"axis":null},"y2":{"field":"y2"}}},
  {"data":{"values":[{"x1":0.21,"x2":0.24,"y1":1.03,"y2":3.65},{"x1":10.46,"x2":10.52,"y1":1.03,"y2":3.65},{"x1":0.21,"x2":4,"y1":1.03,"y2":1.08},{"x1":4,"x2":7,"y1":1.03,"y2":1.04}]},"mark":{"type":"rect","fill":"#222222"},
   "encoding":{"x":{"field":"x1","type":"quantitative","axis":null},"x2":{"field":"x2"},"y":{"field":"y1","type":"quantitative","axis":null},"y2":{"field":"y2"}}},
  {"data":{"name":"labels"},"transform":[{"filter":"datum.row==1"}],"mark":{"type":"text","fontSize":25},"encoding":{"x":{"field":"lane","type":"quantitative"},"y":{"field":"row","type":"quantitative"},"text":{"field":"t"}}},
  {"data":{"name":"labels"},"transform":[{"filter":"datum.row==2"}],"mark":{"type":"text","fontSize":25,"dx":-5.5,"dy":-2},"encoding":{"x":{"field":"lane","type":"quantitative"},"y":{"field":"row","type":"quantitative"},"text":{"field":"t"}}},
  {"data":{"name":"labels"},"transform":[{"filter":"datum.row==3"}],"mark":{"type":"text","fontSize":25,"dx":-10},"encoding":{"x":{"field":"lane","type":"quantitative"},"y":{"field":"row","type":"quantitative"},"text":{"field":"t"}}}
 ]}
],
"columns":2,
"bounds":"flush",
"spacing":{"row":20,"column":20}
}
